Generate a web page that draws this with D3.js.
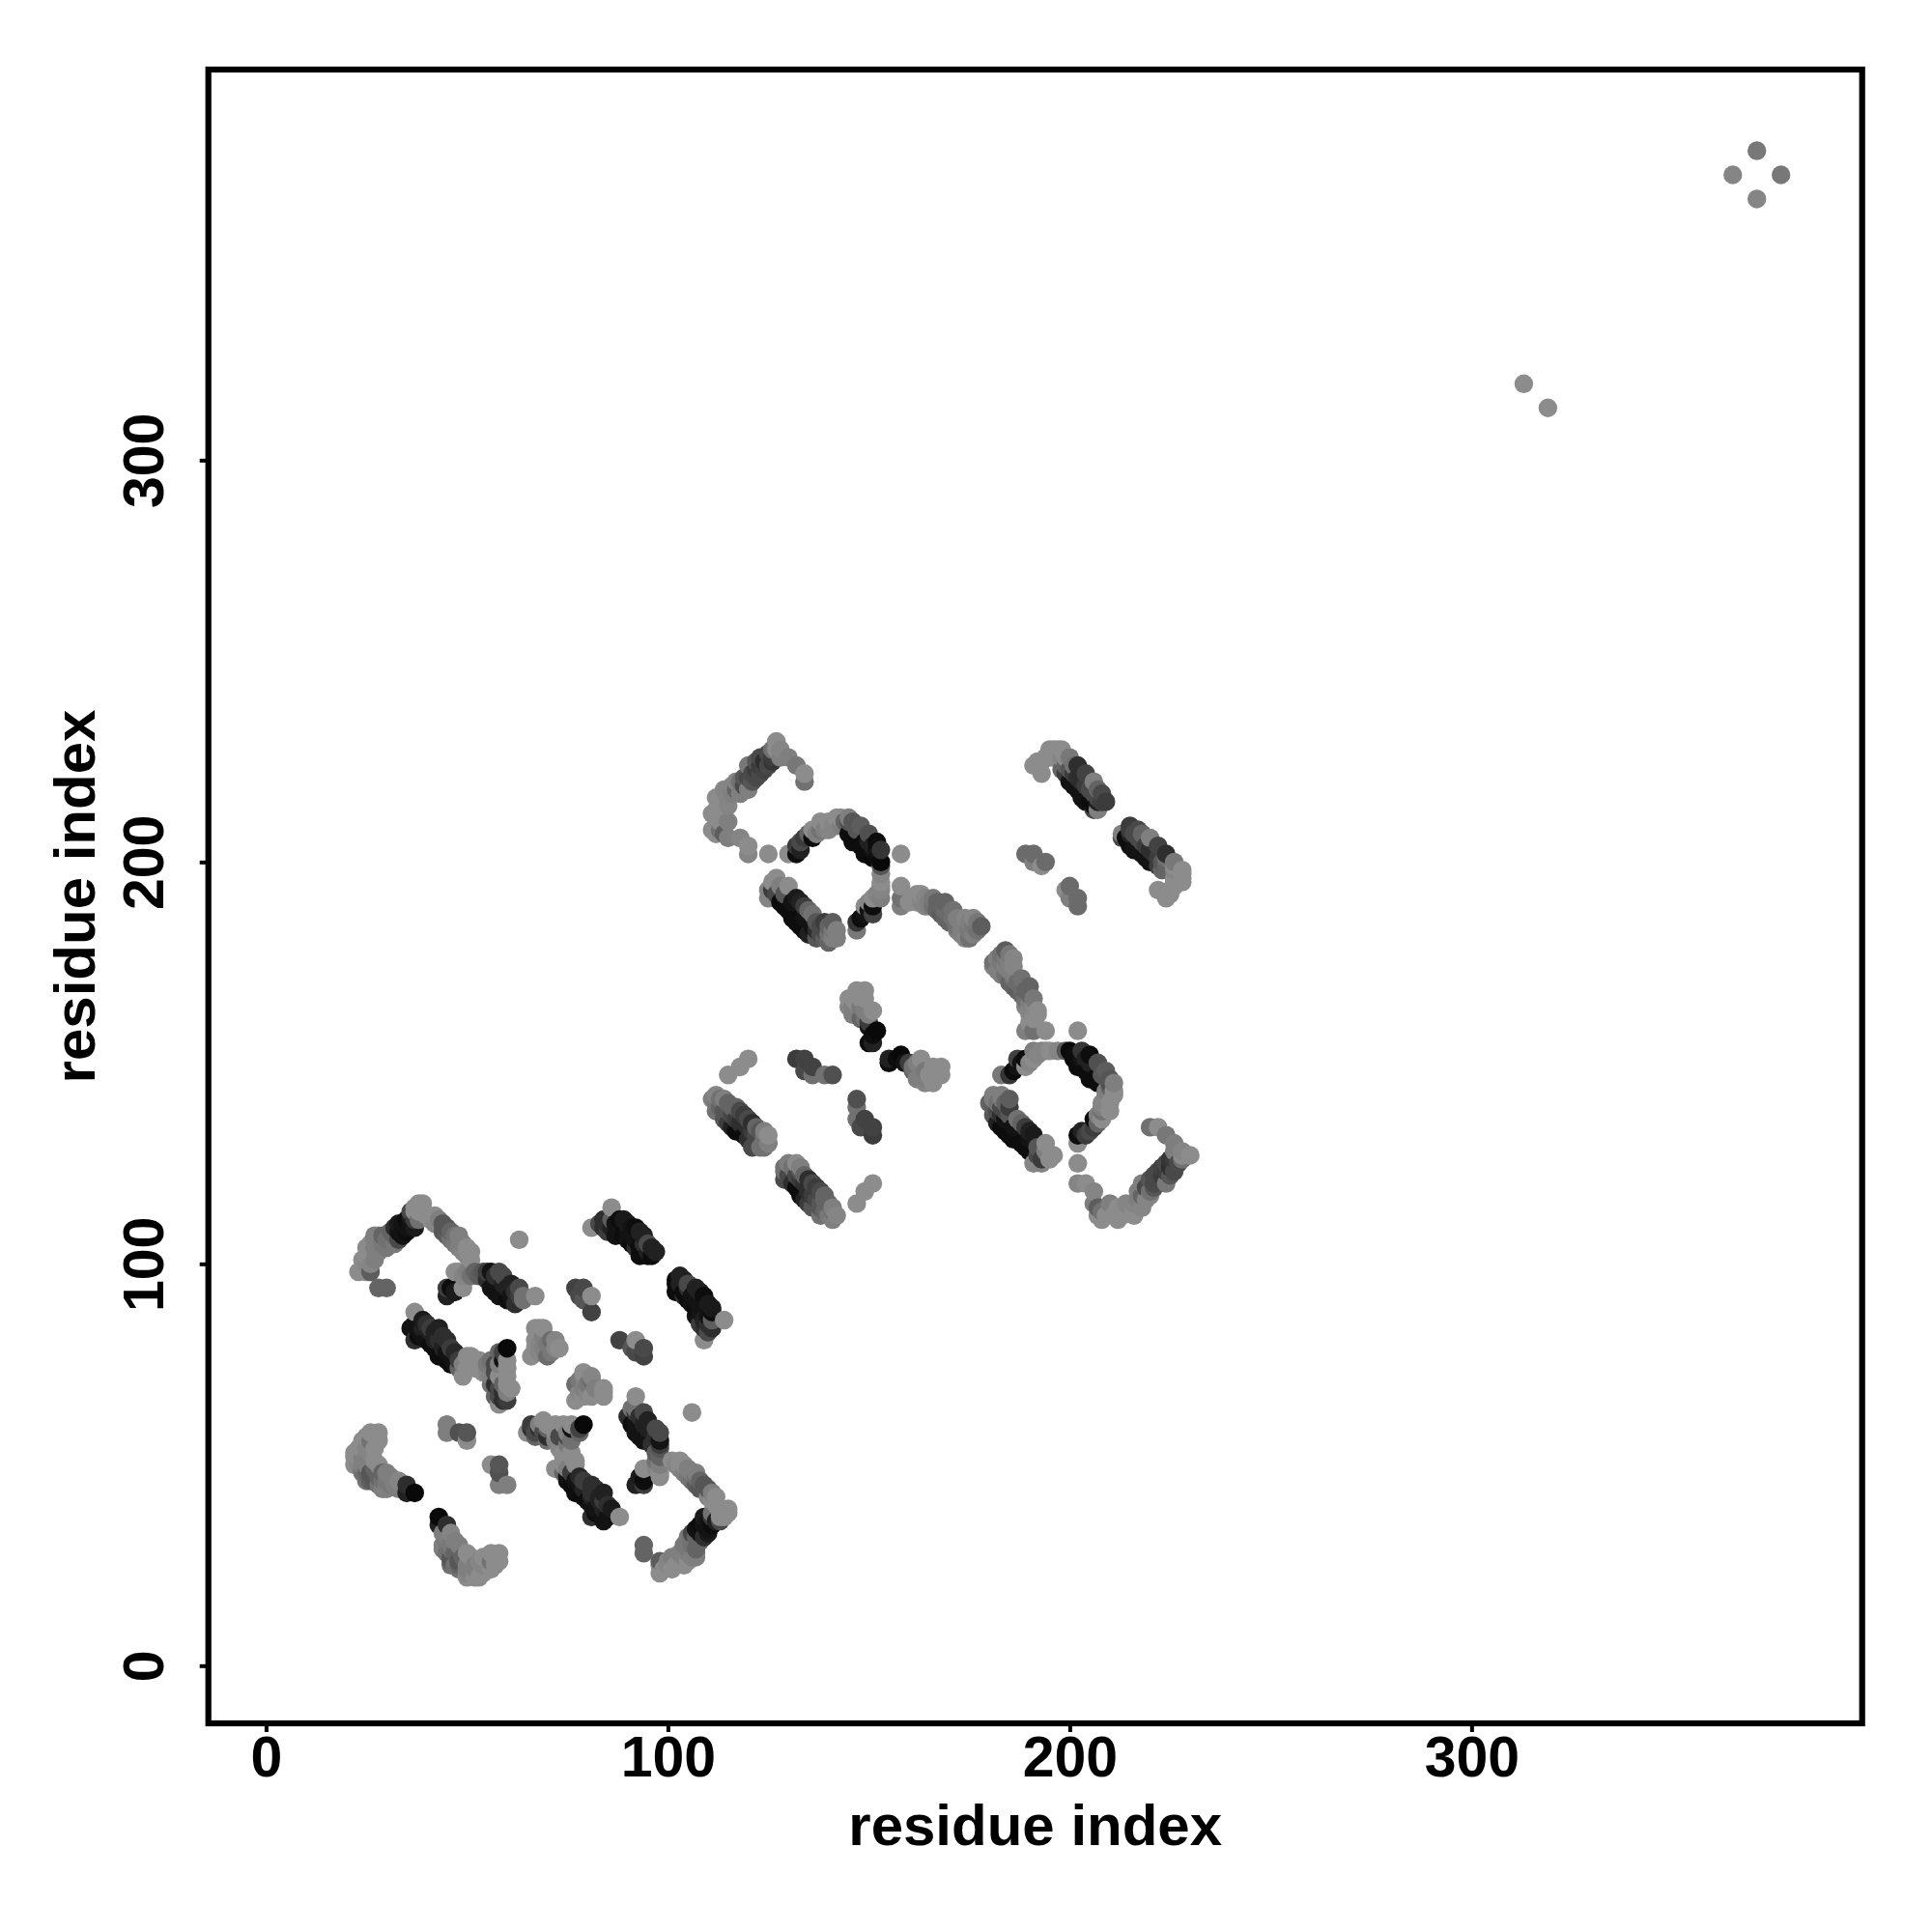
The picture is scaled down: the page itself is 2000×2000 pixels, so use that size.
<!DOCTYPE html>
<html><head><meta charset="utf-8">
<script src="https://cdn.jsdelivr.net/npm/d3@7"></script>
<style>html,body{margin:0;background:#fff}svg{display:block}text{font-family:"Liberation Sans",Arial,sans-serif;font-weight:bold;fill:#000}</style>
</head><body><div id="chart"></div>
<script>
// contacts above the diagonal: [residue i, residue j, strength]
const helixA=[[28,94,.3],[30,94,.3],[23,98,0],[25,98,0],[26,98,.35],[24,99,0],[25,100,.05],[26,100,.05],[24,101,0],[25,102,0],[27,101,.1],[25,104,0],[26,103,0],[26,105,0],[27,104,.1],[28,103,.1],[27,106,.1],[28,105,.1],[27,107,.1],[28,107,.1],[29,105,.15],[30,104,.15],[30,106,.2],[29,107,.3],[31,106,.2],[31,108,.3],[32,105,.15],[32,107,.3],[33,106,.5],[33,108,.9],[32,109,.7],[33,110,.85],[34,107,.9],[34,108,.9],[34,110,.9],[35,108,.95],[35,109,.9],[35,111,.95],[36,110,.9],[36,112,.8],[37,109,.85],[37,111,.6],[38,111,.2],[36,113,.5],[37,113,0],[37,114,0],[38,113,0],[38,115,0],[39,113,0],[39,115,0],[40,112,0],[41,111,0],[42,110,.05],[42,112,0],[43,111,.1],[44,108,.4],[44,110,.4],[45,107,.35],[45,109,.4],[46,106,.2],[46,108,.3],[47,105,.15],[47,107,.2],[48,104,.1],[48,106,.1],[48,107,.1],[49,103,.05],[49,105,.1],[50,102,.05],[50,103,0],[50,104,0],[51,103,0],[51,101,0]];
const strandB=[[45,94,.6],[45,92,.8],[46,94,.95],[47,93,.85],[49,94,0],[47,98,0],[48,98,0],[49,97,.05],[50,98,.1],[51,97,.2],[52,98,.3],[53,97,.35],[54,98,.4],[55,96,.7],[55,98,.6],[56,94,.9],[56,98,.9],[57,93,.9],[57,95,.9],[57,97,.7],[58,98,.5],[58,92,.9],[59,93,.9],[59,95,.8],[59,97,.5],[60,91,.95],[60,94,.8],[61,92,.9],[61,95,.8],[62,90,.7],[62,93,.7],[63,92,.6],[63,94,.5],[64,91,.2],[64,92,.2],[67,92,0]];
const strandC=[[37,88,0],[36,84,.9],[37,81,.7],[37,85,.9],[38,82,.95],[38,84,.9],[39,82,.9],[39,84,.8],[39,86,.85],[40,81,.9],[40,84,.8],[40,85,.7],[41,84,.6],[41,83,.8],[41,80,.95],[42,79,.95],[42,81,.8],[42,83,.8],[43,84,.8],[43,77,.95],[43,81,.7],[44,78,.95],[44,82,.7],[44,79,.8],[45,78,.9],[45,81,.7],[45,76,.95],[46,75,.95],[46,77,.9],[46,79,.6],[47,78,.75],[47,75,.9],[48,74,.3],[48,76,.6],[49,72,0],[49,75,.1],[50,74,0],[50,77,0],[51,77,0],[52,74,0],[52,76,0],[53,76,0],[54,73,0],[53,74,0],[55,73,.05],[55,75,.15],[56,70,.2],[56,76,.2],[56,72,.1],[57,73,.5],[57,75,.5],[57,67,.3],[58,69,.5],[58,75,.1],[58,78,.3],[57,70,.7],[58,72,.0],[58,67,.5],[58,65,0],[59,66,.7],[59,68,.7],[59,70,.3],[59,76,.9],[59,78,.55],[60,79,.98],[60,74,0],[60,76,0],[60,72,0],[60,70,0],[60,68,.1],[60,66,.6],[61,69,0]];
const patchD=[[67,84,0],[67,81,0],[67,79,0],[68,78,.05],[68,80,.05],[68,84,0],[69,79,.1],[69,82,.1],[69,84,0],[70,80,.15],[70,77,.25],[71,78,.15],[71,81,.25],[72,79,.05],[72,81,.05],[73,79,0],[66,77,0]];
const patchE=[[77,94,.55],[78,92,.5],[79,94,.5],[81,92,0],[81,88,.55],[79,91,.4]];
const strandF=[[81,109,0],[83,110,.5],[84,109,.7],[84,111,.7],[86,114,0],[86,111,.35],[85,108,.6],[85,110,.7],[86,109,.8],[87,107,.9],[87,110,.9],[88,111,.95],[88,108,.9],[89,107,.95],[89,111,.85],[90,106,.9],[90,108,.9],[90,110,.85],[91,105,.95],[91,107,.9],[91,109,.9],[92,109,.95],[92,106,.9],[92,104,.7],[93,102,.95],[93,104,.95],[93,108,.8],[94,103,.95],[94,105,.7],[94,107,.8],[95,102,.95],[95,103,.8],[95,105,.5],[96,102,.95],[96,104,.8],[97,103,.8]];
const patchH=[[26,58,0],[28,58,0],[25,57,0],[26,56,.2],[24,56,0],[28,56,0],[24,54,0],[25,54,.05],[23,54,0],[27,54,0],[22,53,0],[23,52,0],[24,52,.1],[26,53,.05],[22,52,0],[22,50,0],[23,50,.05],[25,50,.1],[24,50,.1],[25,52,.1],[24,48,.2],[25,48,.3],[26,48,.4],[27,49,.3],[28,50,0],[27,51,0],[25,46,.2],[25,47,.2],[26,46,.35],[27,46,.4],[28,47,.3],[28,45,.2],[29,44,.1],[29,46,.2],[29,48,.3],[30,44,.1],[30,46,.15],[30,48,.1],[31,45,.15],[31,47,.1],[32,45,.1],[33,44,.1],[33,46,.05],[35,45,.7],[35,43,.8],[37,43,.98]];
const patchI=[[45,60,.1],[45,58,.1],[48,58,.45],[50,58,.4],[50,56,0]];
const singles=[[63,106,0],[125,202,0],[130,202,0],[158,202,0],[313,319,0],[365,371,.05],[371,377,.15]];
const strand8=[[115,147,0],[118,149,0],[120,151,0],[111,141,.1],[112,140,.15],[112,142,.05],[113,139,.3],[113,141,.2],[112,138,.2],[114,138,.4],[114,141,.1],[114,136,.4],[115,135,.6],[115,138,.4],[115,140,.3],[116,134,.8],[116,137,.5],[116,139,.3],[117,133,.95],[117,136,.6],[117,139,.3],[118,133,.95],[118,135,.7],[118,138,.5],[119,132,.95],[119,135,.7],[119,137,.6],[120,131,.7],[120,134,.7],[120,136,.5],[121,133,.6],[121,135,.7],[121,129,.5],[122,130,.5],[122,132,.5],[122,134,.3],[123,133,.4],[123,129,.2],[124,129,.2],[124,131,.2],[124,133,.1],[125,132,0],[125,130,.1]];
const patch132=[[132,151,.6],[134,151,.55],[134,148,.5],[136,149,.55],[136,147,.2],[139,147,.2],[141,147,.45]];
const patch145=[[145,166,0],[145,164,.05],[146,164,.1],[146,166,0],[146,162,.1],[147,168,0],[147,165,0],[147,163,.1],[148,161,.3],[148,164,.15],[148,166,0],[149,168,0],[149,161,.2],[149,163,.1],[149,166,0],[150,160,.6],[150,162,.1],[151,163,0],[150,159,.9],[151,157,.95],[152,158,.98],[150,155,.95],[151,155,.8]];
const arcG1=[[111,208,.0],[111,212,0],[112,207,0],[112,209,0],[112,211,0],[112,213,0],[112,216,0],[113,208,.2],[113,210,0],[113,212,0],[113,214,0],[113,216,0],[114,207,.35],[114,212,0],[114,218,.05],[115,206,.1],[115,210,.1],[115,214,.05],[115,216,.05],[116,217,.1],[116,219,.05],[117,218,.3],[117,220,.05],[118,206,.05],[118,217,.1],[118,220,.2],[119,219,.5],[119,221,.4],[120,202,.05],[120,204,0],[120,218,.1],[120,221,.5],[120,224,.15],[121,220,.4],[121,222,.5],[122,221,.5],[122,223,.6],[122,225,.4],[123,222,.5],[123,224,.6],[123,226,.5],[124,223,.55],[124,225,.7],[125,224,.5],[125,227,.5],[126,225,.65],[126,226,.6],[126,228,.2],[127,228,0],[127,230,0],[128,226,.1],[128,228,.05],[130,226,.1],[132,224,.15],[134,222,0],[134,220,.2]];
const arcG2=[[132,202,.95],[132,204,.6],[133,203,.8],[133,205,.5],[134,206,.6],[135,207,.3],[136,206,.95],[136,208,0],[137,207,.1],[138,208,.2],[138,210,0],[139,208,.1],[140,210,0],[140,208,.05],[141,209,.05],[142,211,0],[142,209,.05],[143,211,0],[143,209,.1],[144,210,.3],[145,207,.95],[145,210,.45],[145,211,.1],[146,205,.95],[146,210,.4],[147,207,.95],[147,208,.4],[148,204,.95],[148,209,.35],[149,202,.95],[149,205,.95],[150,205,.8],[150,207,.45],[151,201,.98],[151,203,.9],[151,204,.8],[152,201,.95],[152,203,.9],[152,205,.95],[153,203,.65],[153,200,.98],[153,199,.4],[153,197,.05],[153,195,0],[153,194,.05],[153,193,.05],[152,192,.05],[153,191,.1],[151,191,0],[150,190,.05],[149,189,0],[150,188,.9],[151,189,.95],[151,187,.55],[149,187,.9],[148,186,.95],[147,185,.65],[147,183,.15]];
const strandG3=[[125,191,.05],[125,193,.05],[126,195,0],[127,196,0],[126,193,.6],[127,192,.5],[128,190,.95],[128,194,.1],[129,189,.95],[129,192,.4],[130,194,0],[130,188,.95],[131,186,.95],[131,190,.9],[132,191,.85],[132,185,.95],[133,184,.95],[133,190,.8],[134,186,.9],[134,189,.6],[134,183,.95],[135,182,.8],[135,188,.3],[136,184,.9],[136,187,.2],[137,185,.4],[137,183,.7],[137,181,.4],[138,182,.5],[138,184,.5],[139,181,.35],[139,183,.5],[139,185,.6],[140,180,.3],[140,182,.2],[140,184,.3],[141,181,.1],[141,183,.15],[141,185,.35],[142,183,.1],[142,181,.1]];
const chain158=[[158,194,0],[158,191,.2],[158,189,.1],[160,190,0],[161,191,0],[162,190,0],[162,192,0],[163,190,.05],[163,192,0],[164,189,.05],[164,191,.05],[165,189,.1],[165,190,.1],[166,189,.2],[166,191,.15],[167,188,.3],[167,190,.3],[168,187,.35],[168,189,.3],[169,186,.3],[169,188,.25],[169,190,.3],[170,185,.3],[170,187,.25],[171,186,.2],[171,188,.2],[172,183,.1],[172,184,.2],[172,186,.1],[173,182,.1],[173,183,.1],[173,185,.1],[174,184,.1],[174,186,.05],[175,183,.15],[175,185,.1],[174,181,.05],[176,182,.1],[176,184,.15],[176,186,.05],[177,183,.2],[177,185,.15],[175,181,.2],[178,184,.35]];
const strandG6=[[191,224,0],[192,225,0],[193,222,0],[193,225,0],[194,226,0],[195,226,0],[195,228,0],[197,228,0],[196,226,0],[196,228,0],[198,223,.3],[198,226,.05],[198,228,0],[199,222,.6],[199,224,.3],[199,226,0],[200,220,.9],[200,223,.4],[200,226,.15],[201,219,.9],[201,222,.6],[201,224,.2],[202,218,.9],[202,221,.7],[202,224,.7],[203,216,.9],[203,217,.9],[203,220,.7],[204,215,.9],[204,219,.6],[204,222,.55],[205,215,.95],[205,218,.5],[206,213,.5],[206,220,.1],[206,217,.5],[206,214,.95],[207,213,.1],[207,215,.8],[207,216,.5],[207,218,.3],[208,215,.6],[208,217,.5],[209,215,.6]];
const patchG7=[[189,202,.25],[191,202,.25],[191,200,.1],[193,199,0],[194,200,.25]];

const tickValues=[0,100,200,300];
const axisTitle="residue index";

const upper=[].concat(helixA,strandB,strandC,patchD,patchE,strandF,patchH,patchI,singles,strand8,patch132,patch145,arcG1,arcG2,strandG3,chain158,strandG6,patchG7);
const contacts=upper.concat(upper.map(d=>[d[1],d[0],d[2]])).sort((a,b)=>a[0]-b[0]||a[1]-b[1]);

const W=2000,H=2000,L=215.7,R=1927.7,T=72,B=1784;
const svg=d3.select("#chart").append("svg").attr("width",W).attr("height",H);
const x=d3.scaleLinear().domain([-14.35,397.2]).range([L,R]);
const y=d3.scaleLinear().domain([-14.35,397.2]).range([B,T]);
const shade=d3.scaleLinear().domain([0,1]).range(["#8c8c8c","#060606"]);

svg.append("g").selectAll("circle").data(contacts).join("circle")
  .attr("cx",d=>x(d[0])).attr("cy",d=>y(d[1])).attr("r",9.7).attr("fill",d=>shade(d[2]));

svg.append("rect").attr("x",L).attr("y",T).attr("width",R-L).attr("height",B-T)
  .attr("fill","none").attr("stroke","#000").attr("stroke-width",6.2);

const ax=svg.append("g").attr("transform",`translate(0,${B})`).call(d3.axisBottom(x).tickValues(tickValues).tickSize(9).tickPadding(0));
const ay=svg.append("g").attr("transform",`translate(${L},0)`).call(d3.axisLeft(y).tickValues(tickValues).tickSize(9).tickPadding(0));
[ax,ay].forEach(g=>{g.select(".domain").remove();g.selectAll(".tick line").attr("stroke","#000").attr("stroke-width",4);g.selectAll("text").attr("font-size",59).style("font-family",'"Liberation Sans"').style("font-weight","bold").attr("fill","#000");});
ax.selectAll("text").attr("y",0).attr("dy",0).attr("text-anchor","middle").attr("dominant-baseline","auto").attr("transform","translate(0,55)");
ay.selectAll("text").attr("x",0).attr("dy",0).attr("text-anchor","middle").attr("transform","translate(-47,0) rotate(-90)");

svg.append("text").attr("x",(L+R)/2).attr("y",1910).attr("text-anchor","middle").attr("font-size",60).text(axisTitle);
svg.append("text").attr("transform",`translate(98,${(T+B)/2}) rotate(-90)`).attr("text-anchor","middle").attr("font-size",60).text(axisTitle);
</script></body></html>
